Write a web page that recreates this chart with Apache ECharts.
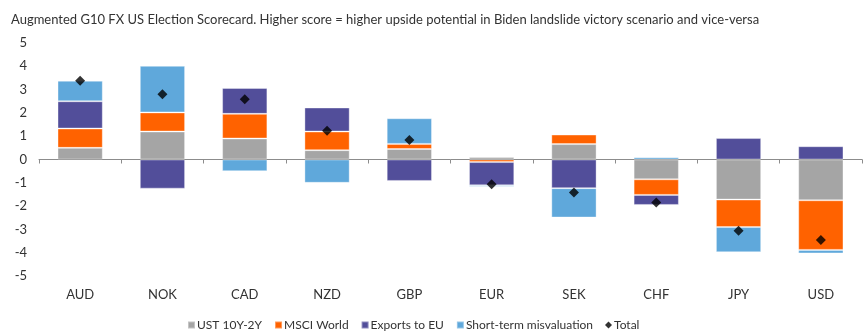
<!DOCTYPE html>
<html>
<head>
<meta charset="utf-8">
<script src="https://cdn.jsdelivr.net/npm/echarts@6/dist/echarts.min.js"></script>
<style>
  html, body { margin: 0; padding: 0; background: #fff; }
  #chart { width: 863px; height: 334px; }
</style>
</head>
<body>
<div id="chart"></div>
<script>
// G10 currencies
const categories = ['AUD', 'NOK', 'CAD', 'NZD', 'GBP', 'EUR', 'SEK', 'CHF', 'JPY', 'USD'];

// Scorecard components
const ustCurve      = [0.50, 1.20, 0.90, 0.40, 0.45, 0.11, 0.66, -0.85, -1.72, -1.75];
const msciWorld    = [0.83, 0.82, 1.06, 0.80, 0.22, -0.11, 0.41, -0.67, -1.18, -2.13];
const exportsToEU  = [1.17, -1.25, 1.11, 1.03, -0.92, -1.00, -1.23, -0.43, 0.92, 0.57];
const misvaluation = [0.88, 2.00, -0.50, -1.00, 1.10, -0.06, -1.26, 0.10, -1.08, -0.15];
const total        = [3.38, 2.80, 2.59, 1.23, 0.84, -1.06, -1.42, -1.85, -3.06, -3.46];

const yTicks = { min: -5, max: 5, interval: 1 };

const titleText = 'Augmented G10 FX US Election Scorecard. Higher score = higher upside potential in Biden landslide victory scenario and vice-versa';

const FONT = 'Lato, "Noto Sans", sans-serif';

const chart = echarts.init(document.getElementById('chart'), null, { renderer: 'canvas' });

function barSeries(name, data, color) {
  return {
    name: name,
    type: 'bar',
    stack: 'score',
    xAxisIndex: 0,
    data: data,
    barCategoryGap: '45%',
    itemStyle: { color: color, borderColor: 'rgba(255,255,255,0.35)', borderWidth: 1 },
    emphasis: { disabled: true }
  };
}

chart.setOption({
  animation: false,
  backgroundColor: '#ffffff',
  title: {
    text: titleText,
    left: 6,
    top: 8,
    textStyle: { fontFamily: FONT, fontSize: 13, fontWeight: 'normal', color: '#333333' }
  },
  legend: {
    top: 314,
    left: 182,
    itemWidth: 7,
    itemHeight: 7,
    itemGap: 12,
    textStyle: { fontFamily: FONT, fontSize: 12, color: '#333333', padding: [0, 0, 0, -3] },
    data: [
      { name: 'UST 10Y-2Y', icon: 'rect' },
      { name: 'MSCI World', icon: 'rect' },
      { name: 'Exports to EU', icon: 'rect' },
      { name: 'Short-term misvaluation', icon: 'rect' },
      { name: 'Total', icon: 'diamond' }
    ]
  },
  grid: { left: 39, right: 1, top: 43, bottom: 58, containLabel: false },
  xAxis: [
    {
      type: 'category',
      data: categories,
      axisLine: { onZero: true, lineStyle: { color: '#8c8c8c', width: 1 } },
      axisTick: { show: true, length: 4, lineStyle: { color: '#8c8c8c' } },
      axisLabel: { show: false },
      splitLine: { show: false }
    },
    {
      type: 'category',
      data: categories,
      position: 'bottom',
      axisLine: { show: false },
      axisTick: { show: false },
      axisLabel: { show: true, fontFamily: FONT, fontSize: 13, color: '#333333', margin: 12 },
      splitLine: { show: false }
    }
  ],
  yAxis: {
    type: 'value',
    min: yTicks.min,
    max: yTicks.max,
    interval: yTicks.interval,
    axisLine: { show: false },
    axisTick: { show: false },
    splitLine: { show: false },
    axisLabel: { fontFamily: FONT, fontSize: 13, color: '#333333', margin: 12 }
  },
  series: [
    barSeries('UST 10Y-2Y', ustCurve, '#A5A5A5'),
    barSeries('MSCI World', msciWorld, '#FF6200'),
    barSeries('Exports to EU', exportsToEU, '#524E9A'),
    barSeries('Short-term misvaluation', misvaluation, '#5FA8DB'),
    {
      name: 'Total',
      type: 'scatter',
      xAxisIndex: 0,
      data: total,
      symbol: 'diamond',
      symbolSize: 10,
      itemStyle: { color: '#000000' },
      z: 5
    }
  ]
});
</script>
</body>
</html>
